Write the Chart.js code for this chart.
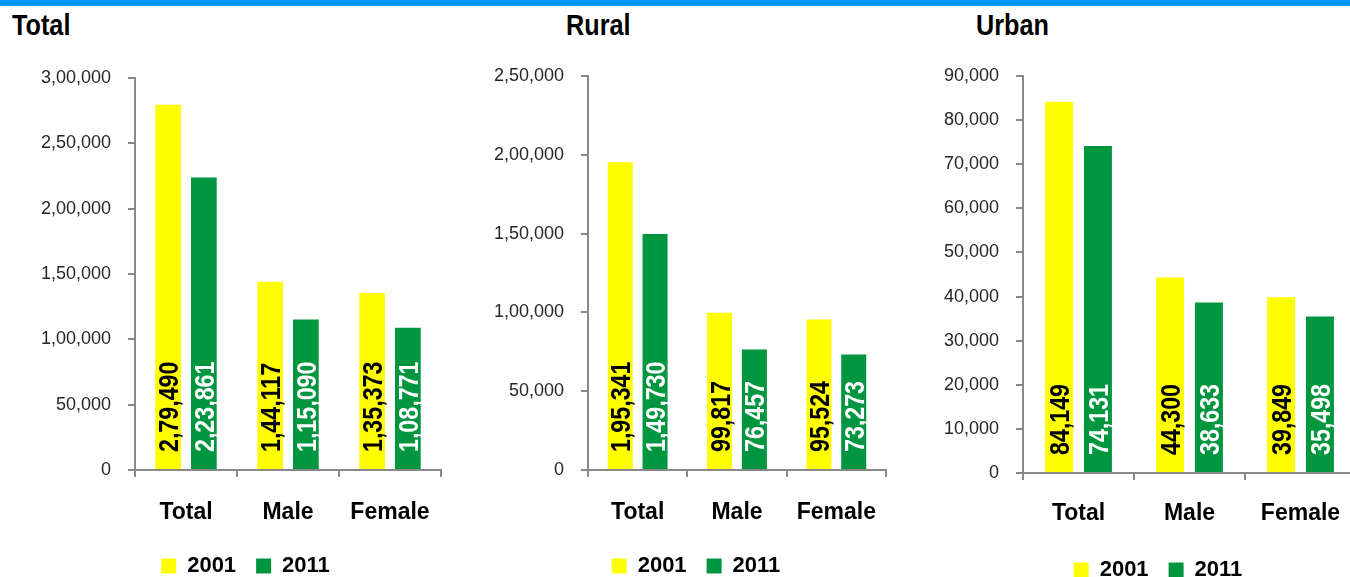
<!DOCTYPE html>
<html>
<head>
<meta charset="utf-8">
<title>Population 2001 - 2011</title>
<script src="https://cdn.jsdelivr.net/npm/chart.js"></script>
<style>
  html, body { margin: 0; padding: 0; background: #fff; }
  body { position: relative; width: 1350px; height: 577px; overflow: hidden; }
  .band { position: absolute; left: 0; top: 0; width: 1350px; height: 6px; background: #0096ff; }
  .ttl { position: absolute; top: 10px; font: bold 29px "Liberation Sans", Arial, sans-serif; line-height: 30px; color: #000;
         transform: scaleX(0.87); transform-origin: left top; }
  .box { position: absolute; top: 0; }
</style>
</head>
<body>
<div class="band"></div>
<div class="ttl" style="left:12px">Total</div>
<div class="ttl" style="left:566px">Rural</div>
<div class="ttl" style="left:976px">Urban</div>

<div class="box" style="left:0px;width:490px;height:587px"><canvas id="cTotal"></canvas></div>
<div class="box" style="left:460px;width:470px;height:587px"><canvas id="cRural"></canvas></div>
<div class="box" style="left:910px;width:496px;height:591px"><canvas id="cUrban"></canvas></div>

<script>
// data
const categories = ['Total', 'Male', 'Female'];
const years = ['2001', '2011'];

const total2001 = [279490, 144117, 135373];
const total2011 = [223861, 115090, 108771];
const rural2001 = [195341, 99817, 95524];
const rural2011 = [149730, 76457, 73273];
const urban2001 = [84149, 44300, 39849];
const urban2011 = [74131, 38633, 35498];

// y axis: [max, step]
const totalAxis = [300000, 50000];
const ruralAxis = [250000, 50000];
const urbanAxis = [90000, 10000];

const plain = '"Liberation Sans", Arial, sans-serif';

// indian digit grouping, 2,79,490
function inr(n) {
  const s = String(Math.round(n));
  if (s.length <= 3) return s;
  const last3 = s.slice(-3);
  let rest = s.slice(0, -3);
  const parts = [];
  while (rest.length > 2) {
    parts.unshift(rest.slice(-2));
    rest = rest.slice(0, -2);
  }
  if (rest) parts.unshift(rest);
  return parts.join(',') + ',' + last3;
}

// vertical value labels sitting at the bottom of each bar (narrowed a bit)
const barLabels = {
  id: 'barLabels',
  afterDatasetsDraw(chart) {
    const ctx = chart.ctx;
    ctx.save();
    ctx.font = 'bold 27px ' + plain;
    ctx.textAlign = 'left';
    ctx.textBaseline = 'alphabetic';
    chart.data.datasets.forEach((ds, i) => {
      chart.getDatasetMeta(i).data.forEach((bar, j) => {
        ctx.save();
        ctx.translate(bar.x, bar.base - 17);
        ctx.rotate(-Math.PI / 2);
        ctx.scale(0.86, 1);
        ctx.fillStyle = ds.labelColor;
        ctx.fillText(inr(ds.data[j]), 0, 10);
        ctx.restore();
      });
    });
    ctx.restore();
  }
};

function makeChart(id, d2001, d2011, axis, L) {
  // nudge the legend sideways, layout recomputes it on every update
  const legendShift = {
    id: 'legendShift',
    afterLayout(chart) {
      chart.legend.left += L.dx;
      chart.legend.right += L.dx;
    }
  };
  return new Chart(document.getElementById(id), {
    type: 'bar',
    data: {
      labels: categories,
      datasets: [
        { label: years[0], data: d2001, backgroundColor: '#ffff00', labelColor: '#000' },
        { label: years[1], data: d2011, backgroundColor: '#009640', labelColor: '#fff' }
      ]
    },
    options: {
      responsive: true,
      maintainAspectRatio: false,
      animation: false,
      layout: { padding: { top: L.top, right: L.right, left: 0, bottom: 0 } },
      datasets: { bar: { categoryPercentage: 0.70, barPercentage: 0.72 } },
      plugins: {
        legend: {
          position: 'bottom',
          labels: {
            boxWidth: 15, boxHeight: 15, padding: 20, color: '#000',
            font: { family: plain, size: 22, weight: 'bold' }
          }
        },
        tooltip: { enabled: false }
      },
      scales: {
        x: {
          grid: { drawOnChartArea: false, tickLength: 7, color: '#898989', lineWidth: 2 },
          border: { color: '#898989', width: 2 },
          ticks: { color: '#000', padding: L.xpad, font: { family: plain, size: 23, weight: 'bold' } },
          afterFit: s => { s.height = L.xh; }
        },
        y: {
          min: 0,
          max: axis[0],
          grid: { drawOnChartArea: false, tickLength: 7, color: '#898989', lineWidth: 2 },
          border: { color: '#898989', width: 2 },
          ticks: {
            stepSize: axis[1], color: '#262626', padding: 17,
            font: { family: plain, size: 18 },
            callback: v => inr(v)
          },
          afterFit: s => { s.width = L.yw; }
        }
      }
    },
    plugins: [barLabels, legendShift]
  });
}

makeChart('cTotal', total2001, total2011, totalAxis, { top: 78, right: 49, yw: 135, xh: 65, xpad: 22, dx: 25 });
makeChart('cRural', rural2001, rural2011, ruralAxis, { top: 76, right: 44, yw: 128, xh: 65, xpad: 22, dx: 23 });
makeChart('cUrban', urban2001, urban2011, urbanAxis, { top: 76, right: 50, yw: 113, xh: 66, xpad: 20, dx: 25 });
</script>
</body>
</html>
